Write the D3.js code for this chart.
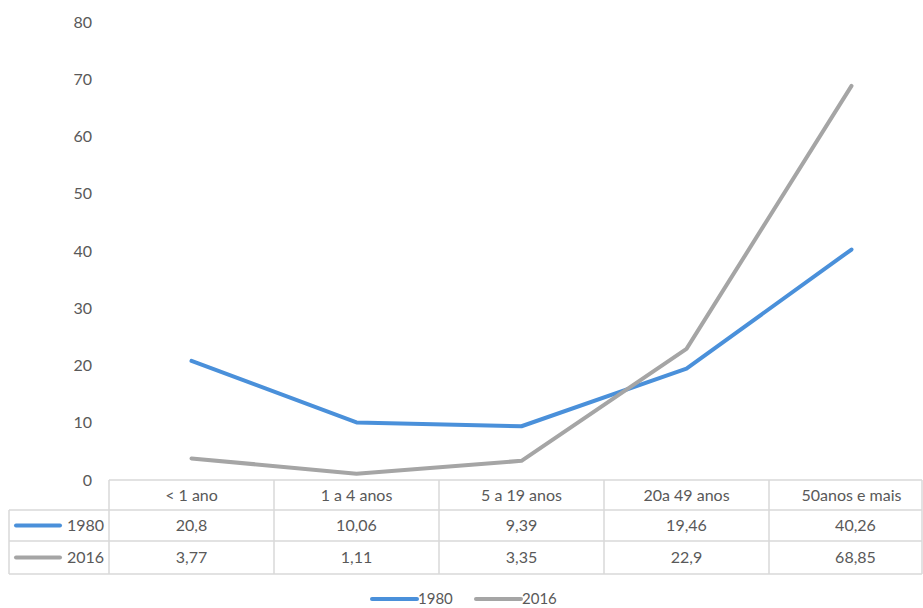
<!DOCTYPE html>
<html><head><meta charset="utf-8">
<script src="https://cdn.jsdelivr.net/npm/d3@7"></script>
<style>body{margin:0;background:#fff}svg{display:block}text{font-family:Lato,"Open Sans",sans-serif;fill:#595959}</style>
</head><body>
<svg id="c" width="923" height="608"></svg>
<script>
const categories = ["< 1 ano","1 a 4 anos","5 a 19 anos","20 a 49 anos","50 anos e mais"];
const catLabels = ["< 1 ano","1 a 4 anos","5 a 19 anos","20a 49 anos","50anos e mais"];
const seriesNames = ["1980","2016"];
const values1980 = [20.8,10.06,9.39,19.46,40.26];
const values2016 = [3.77,1.11,3.35,22.9,68.85];
const labels1980 = ["20,8","10,06","9,39","19,46","40,26"];
const labels2016 = ["3,77","1,11","3,35","22,9","68,85"];
const yTicks = [0,10,20,30,40,50,60,70,80];
const colors = ["#4A90DA","#A5A5A5"];

const svg = d3.select("#c");
const x = d3.scaleBand().domain(categories).range([109,934]).padding(0);
const y = d3.scaleLinear().domain([0,80]).range([480,22]);
const fs = "16px";

const yAxis = d3.axisLeft(y).tickValues(yTicks).tickSize(0).tickPadding(0);
const ya = svg.append("g").attr("transform","translate(92,0)").call(yAxis);
ya.select(".domain").remove();
ya.selectAll("text").style("font-size",fs).attr("fill","#595959").style("font-family","Lato,sans-serif");

const series = [values1980, values2016];
const line = d3.line().x((d,i)=>x(categories[i])+x.bandwidth()/2).y(d=>y(d));
series.forEach((s,k)=>{
  svg.append("path").datum(s).attr("d",line).attr("fill","none")
    .attr("stroke",colors[k]).attr("stroke-width",4).attr("stroke-linecap","round").attr("stroke-linejoin","round");
});

const g = svg.append("g");
const bc = "#D9D9D9";
const rowY = [480,510,541,574];
const xEnd = 922;
g.append("line").attr("x1",109).attr("x2",xEnd).attr("y1",rowY[0]).attr("y2",rowY[0]).attr("stroke",bc).attr("stroke-width",1.5);
[1,2,3].forEach(i=>g.append("line").attr("x1",9).attr("x2",xEnd).attr("y1",rowY[i]).attr("y2",rowY[i]).attr("stroke",bc).attr("stroke-width",1.5));
g.append("line").attr("x1",9).attr("x2",9).attr("y1",rowY[1]).attr("y2",rowY[3]).attr("stroke",bc).attr("stroke-width",1.5);
categories.forEach(c=>{
  g.append("line").attr("x1",x(c)).attr("x2",x(c)).attr("y1",rowY[0]).attr("y2",rowY[3]).attr("stroke",bc).attr("stroke-width",1.5);
});
g.append("line").attr("x1",xEnd).attr("x2",xEnd).attr("y1",rowY[0]).attr("y2",rowY[3]).attr("stroke",bc).attr("stroke-width",1.5);

const colCenters = categories.map(c=> x(c)+x.bandwidth()/2);
catLabels.forEach((t,i)=>g.append("text").attr("x",colCenters[i]).attr("y",(rowY[0]+rowY[1])/2).attr("dy","0.35em").attr("text-anchor","middle").style("font-size",fs).text(t));
[labels1980,labels2016].forEach((arr,k)=>{
  const yy=(rowY[k+1]+rowY[k+2])/2;
  arr.forEach((t,i)=>g.append("text").attr("x",colCenters[i]+(i===4?4:0)).attr("y",yy).attr("dy","0.35em").attr("text-anchor","middle").style("font-size",fs).text(t));
  g.append("line").attr("x1",16).attr("x2",60).attr("y1",yy).attr("y2",yy).attr("stroke",colors[k]).attr("stroke-width",4).attr("stroke-linecap","round");
  g.append("text").attr("x",104).attr("y",yy).attr("dy","0.35em").attr("text-anchor","end").style("font-size",fs).text(seriesNames[k]);
});

const legX = [372,476];
seriesNames.forEach((n,k)=>{
  const lg = svg.append("g").attr("transform",`translate(${legX[k]},599)`);
  lg.append("line").attr("x1",0).attr("x2",45).attr("y1",0).attr("y2",0).attr("stroke",colors[k]).attr("stroke-width",4).attr("stroke-linecap","round");
  lg.append("text").attr("x",46).attr("y",0).attr("dy","0.35em").style("font-size","15px").text(n);
});
</script>
</body></html>
